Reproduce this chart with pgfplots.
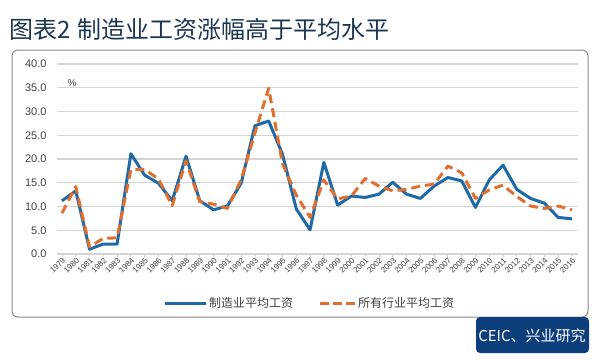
\documentclass[border=0pt]{standalone}
\usepackage{pgfplots}
\pgfplotsset{compat=1.18}
\usepackage{fontspec}
\setmainfont{Liberation Sans}
\newfontfamily\cjk{Noto Sans CJK SC}
\definecolor{mblue}{HTML}{1F6AA6}
\definecolor{morange}{HTML}{E0702F}
\definecolor{titlec}{HTML}{1C3652}
\definecolor{boxc}{HTML}{0C3E7C}
\definecolor{tickc}{HTML}{404040}
\definecolor{gridc}{HTML}{D4D4D4}
\definecolor{framec}{HTML}{8A8A8A}
\begin{document}
\begin{tikzpicture}
\useasboundingbox (0,0) rectangle (600bp,-360bp);
\node[anchor=west, inner sep=0, text=titlec, font=\cjk\fontsize{24bp}{26bp}\selectfont] at (9bp,-29bp) {图表2\hspace{7bp}制造业工资涨幅高于平均水平};
\draw[framec, line width=1bp, rounded corners=6bp] (12bp,-50bp) rectangle (588bp,-317bp);
\fill[boxc, rounded corners=4bp] (476bp,-317bp) rectangle (589bp,-353bp);
\node[text=white, inner sep=0, font=\cjk\fontsize{15bp}{17bp}\selectfont] at (532bp,-335.5bp) {CEIC、兴业研究};
\node[text=tickc, inner sep=0, font=\fontsize{10bp}{12bp}\selectfont] at (72bp,-83bp) {\%};
\begin{axis}[
  at={(57bp,-254bp)}, anchor=south west,
  scale only axis, width=521bp, height=190bp,
  xmin=1978.64, xmax=2016.44, ymin=0, ymax=40,
  axis x line*=bottom, axis y line*=left,
  y axis line style={draw=none},
  x axis line style={draw=gridc, line width=1.2bp, -},
  ymajorgrids, grid style={draw=gridc, line width=1.2bp},
  ytick={0,5,...,40},
  ytick style={draw=none},
  xtick={1979,...,2016},
  xtick style={draw=gridc, line width=0.8bp},
  tick align=outside, major tick length=3bp,
  /pgf/number format/assume math mode=true,
  yticklabel style={/pgf/number format/fixed, /pgf/number format/fixed zerofill, /pgf/number format/precision=1, font=\fontsize{11bp}{13bp}\selectfont, text=tickc, xshift=-4bp},
  xticklabel style={/pgf/number format/1000 sep={}, rotate=45, anchor=east, font=\fontsize{8bp}{9bp}\selectfont, text=tickc, inner sep=0bp, yshift=-3bp},
  legend columns=2,
  legend style={at={(0.2035,-0.258)}, anchor=west, draw=none, fill=none, inner sep=0pt,
    font=\cjk\fontsize{12bp}{14bp}\selectfont, text=tickc,
    /tikz/every even column/.append style={column sep=23bp},
    nodes={inner sep=2bp}},
]
\addplot[mblue, line width=3bp, line join=round,
  legend image code/.code={\draw[mblue, line width=3bp] (0bp,0bp) -- (41bp,0bp);}]
coordinates {
(1979,11.2) (1980,13.3) (1981,1.0) (1982,2.1) (1983,2.1) (1984,21.1) (1985,16.6) (1986,14.9)
(1987,11.2) (1988,20.6) (1989,11.2) (1990,9.3) (1991,10.1) (1992,14.9) (1993,27.0) (1994,28.0)
(1995,21.0) (1996,9.5) (1997,5.1) (1998,19.3) (1999,10.3) (2000,12.2) (2001,11.9) (2002,12.6)
(2003,15.1) (2004,12.6) (2005,11.7) (2006,14.3) (2007,16.1) (2008,15.4) (2009,9.8) (2010,15.6)
(2011,18.7) (2012,13.6) (2013,11.7) (2014,10.7) (2015,7.7) (2016,7.4)
};
\addlegendentry{制造业平均工资}
\addplot[morange, line width=3bp, line join=round, dash pattern=on 9bp off 5bp,
  legend image code/.code={\draw[morange, line width=3bp, dash pattern=on 9bp off 4bp] (0bp,0bp) -- (35bp,0bp);}]
coordinates {
(1979,8.6) (1980,14.2) (1981,1.5) (1982,3.3) (1983,3.4) (1984,17.8) (1985,17.8) (1986,15.8)
(1987,10.2) (1988,19.6) (1989,11.0) (1990,10.5) (1991,9.6) (1992,15.6) (1993,25.5) (1994,34.9)
(1995,19.0) (1996,12.4) (1997,7.7) (1998,15.6) (1999,11.6) (2000,12.2) (2001,15.9) (2002,14.3)
(2003,13.3) (2004,13.6) (2005,14.3) (2006,14.7) (2007,18.5) (2008,17.1) (2009,11.7) (2010,13.5)
(2011,14.5) (2012,12.1) (2013,10.1) (2014,9.6) (2015,10.1) (2016,9.3)
};
\addlegendentry{所有行业平均工资}
\end{axis}
\end{tikzpicture}
\end{document}
